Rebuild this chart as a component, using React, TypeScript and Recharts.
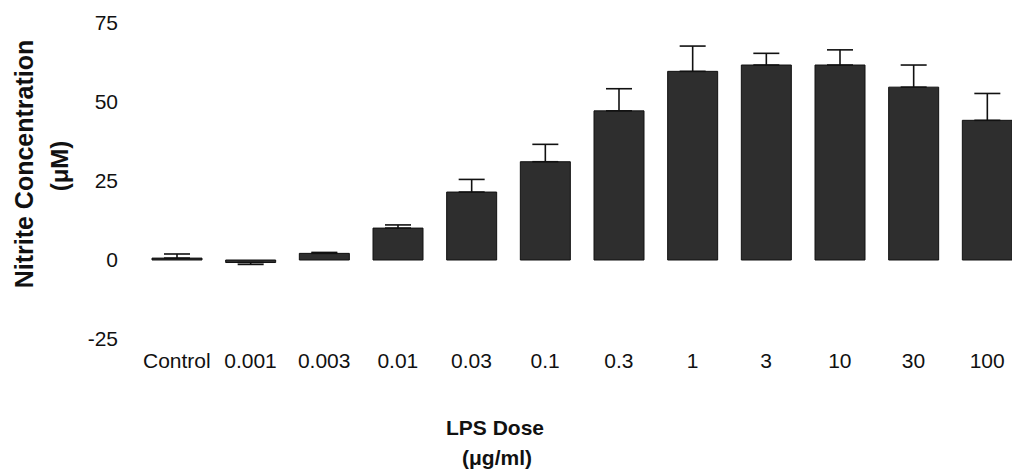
import React from 'react';
import { BarChart, Bar, XAxis, YAxis, ErrorBar } from 'recharts';

const doses = ['Control', '0.001', '0.003', '0.01', '0.03', '0.1', '0.3', '1', '3', '10', '30', '100'];
const nitrite = [0.6, -0.8, 2.1, 10.1, 21.5, 31.1, 47.2, 59.7, 61.7, 61.7, 54.7, 44.2];
// [below, above] error in µM
const errLow = [0, 0.6, 0, 0, 0, 0, 0, 0, 0, 0, 0, 0];
const errHigh = [1.3, 0, 0.3, 1.0, 4.0, 5.5, 7.0, 8.0, 3.7, 4.8, 7.0, 8.5];
const yTicks = [-25, 0, 25, 50, 75];

const FONT = '"Liberation Sans", Arial, Helvetica, sans-serif';

const YTitle = () => (
  <g fontFamily={FONT} fontWeight="bold" fill="#111">
    <text x={33} y={164} transform="rotate(-90 33 164)" textAnchor="middle" fontSize={25}>
      Nitrite Concentration
    </text>
    <text x={68} y={166} transform="rotate(-90 68 166)" textAnchor="middle" fontSize={24}>
      (μM)
    </text>
  </g>
);

const XTitle = () => (
  <g fontFamily={FONT} fontWeight="bold" fill="#111">
    <text x={495} y={435} textAnchor="middle" fontSize={21}>LPS Dose</text>
    <text x={497} y={465} textAnchor="middle" fontSize={21}>(μg/ml)</text>
  </g>
);

export default function App() {
  const data = doses.map((d, i) => ({
    dose: d,
    value: nitrite[i],
    err: [errLow[i], errHigh[i]],
  }));

  return (
    <div style={{ position: 'fixed', left: 0, top: 0, width: 1012, height: 475, overflow: 'hidden', background: '#fff' }}>
      <BarChart width={1040} height={475} data={data} margin={{ top: 23, right: 16, left: 0, bottom: 0 }}>
        <XAxis
          dataKey="dose"
          height={136}
          axisLine={false}
          tickLine={false}
          tickSize={0}
          tickMargin={14}
          interval={0}
          tick={{ fontSize: 21, fill: '#111', fontFamily: FONT }}
          label={{ content: () => <XTitle /> }}
        />
        <YAxis
          width={140}
          domain={[-25, 75]}
          ticks={yTicks}
          axisLine={false}
          tickLine={false}
          tickSize={0}
          tickMargin={22}
          tick={{ fontSize: 21, fill: '#111', fontFamily: FONT }}
          label={{ content: () => <YTitle /> }}
        />
        <Bar dataKey="value" fill="#2e2e2e" stroke="#111" strokeWidth={1} barSize={50} isAnimationActive={false}>
          <ErrorBar dataKey="err" direction="y" width={13} stroke="#111" strokeWidth={1.6} isAnimationActive={false} />
        </Bar>
      </BarChart>
    </div>
  );
}
